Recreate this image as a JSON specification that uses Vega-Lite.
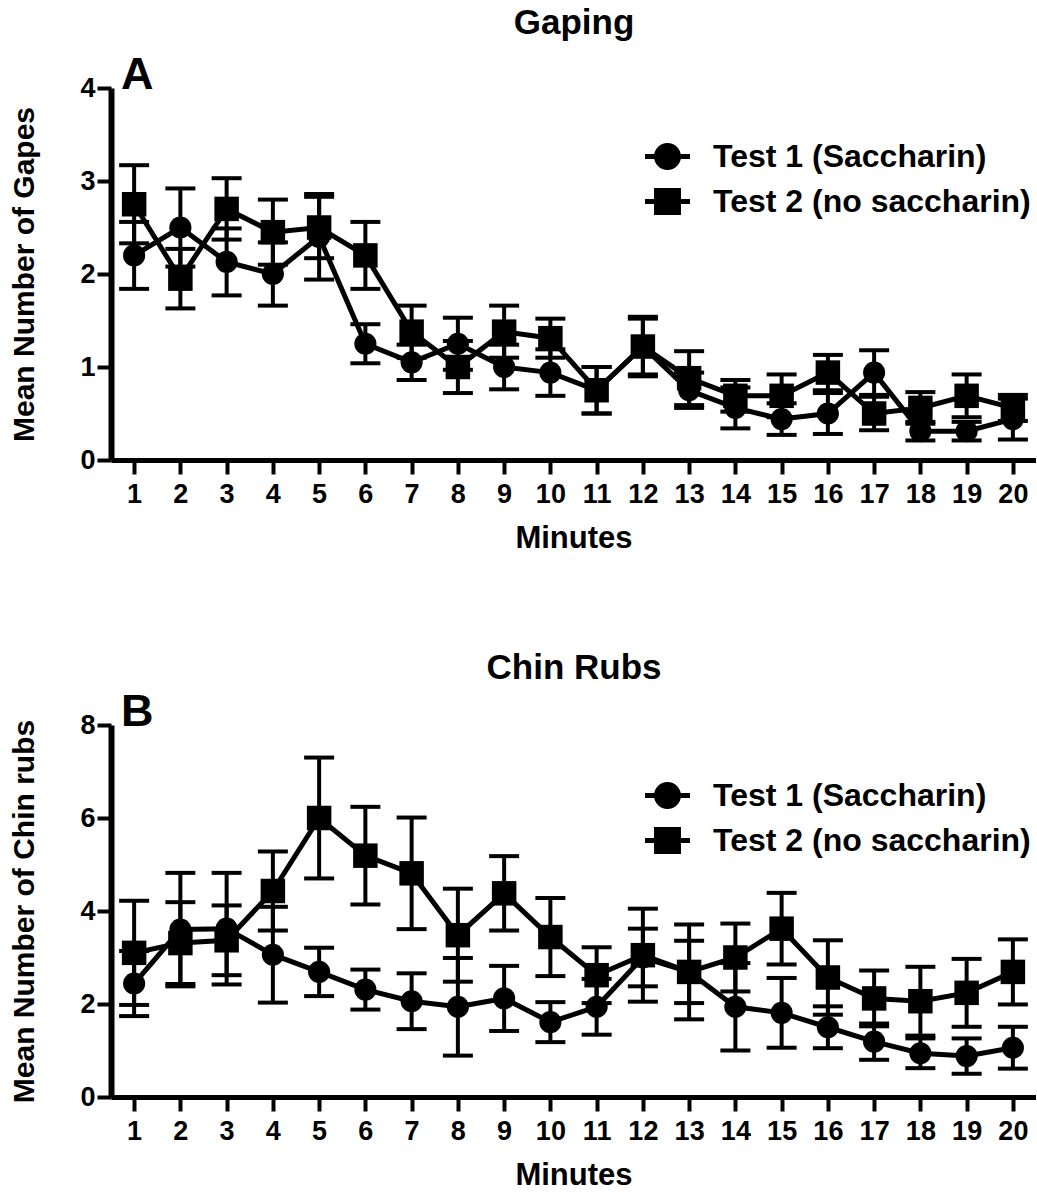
{
  "$schema": "https://vega.github.io/schema/vega-lite/v6.json",
  "padding": {"left": 9, "top": 6, "right": 0, "bottom": 0},
  "spacing": 98,
  "config": {
    "font": "Liberation Sans",
    "view": {"stroke": null},
    "axis": {
      "grid": false,
      "labelFont": "Liberation Sans",
      "labelFontWeight": "bold",
      "labelFontSize": 27,
      "labelColor": "black",
      "titleFont": "Liberation Sans",
      "titleFontWeight": "bold",
      "titleFontSize": 30,
      "titleColor": "black",
      "domainColor": "black",
      "tickColor": "black",
      "labelFlush": false,
      "labelOverlap": false
    },
    "axisX": {"domainWidth": 5, "tickWidth": 4, "tickSize": 14, "labelPadding": 7, "titlePadding": 16, "titleFontSize": 31},
    "axisY": {"domainWidth": 6, "tickWidth": 4, "tickSize": 14, "labelPadding": 2, "titlePadding": 40},
    "title": {"font": "Liberation Sans", "fontWeight": "bold", "color": "black"},
    "legend": {
      "orient": "none",
      "padding": 0,
      "title": null,
      "labelFont": "Liberation Sans",
      "labelFontWeight": "bold",
      "labelFontSize": 32,
      "labelColor": "black",
      "labelLimit": 600,
      "labelOffset": 23,
      "rowPadding": 6,
      "symbolSize": 2025,
      "symbolFillColor": "black",
      "symbolStrokeWidth": 0,
      "symbolOpacity": 1
    }
  },
  "datasets": {
    "gaping": [
      {"minute": 1, "test": "Test 1 (Saccharin)", "mean": 2.20, "sem": 0.36},
      {"minute": 2, "test": "Test 1 (Saccharin)", "mean": 2.50, "sem": 0.42},
      {"minute": 3, "test": "Test 1 (Saccharin)", "mean": 2.13, "sem": 0.36},
      {"minute": 4, "test": "Test 1 (Saccharin)", "mean": 2.00, "sem": 0.34},
      {"minute": 5, "test": "Test 1 (Saccharin)", "mean": 2.40, "sem": 0.46},
      {"minute": 6, "test": "Test 1 (Saccharin)", "mean": 1.25, "sem": 0.21},
      {"minute": 7, "test": "Test 1 (Saccharin)", "mean": 1.05, "sem": 0.19},
      {"minute": 8, "test": "Test 1 (Saccharin)", "mean": 1.25, "sem": 0.28},
      {"minute": 9, "test": "Test 1 (Saccharin)", "mean": 1.00, "sem": 0.24},
      {"minute": 10, "test": "Test 1 (Saccharin)", "mean": 0.94, "sem": 0.25},
      {"minute": 11, "test": "Test 1 (Saccharin)", "mean": 0.75, "sem": 0.25},
      {"minute": 12, "test": "Test 1 (Saccharin)", "mean": 1.22, "sem": 0.30},
      {"minute": 13, "test": "Test 1 (Saccharin)", "mean": 0.75, "sem": 0.19},
      {"minute": 14, "test": "Test 1 (Saccharin)", "mean": 0.56, "sem": 0.22},
      {"minute": 15, "test": "Test 1 (Saccharin)", "mean": 0.44, "sem": 0.17},
      {"minute": 16, "test": "Test 1 (Saccharin)", "mean": 0.50, "sem": 0.22},
      {"minute": 17, "test": "Test 1 (Saccharin)", "mean": 0.94, "sem": 0.24},
      {"minute": 18, "test": "Test 1 (Saccharin)", "mean": 0.31, "sem": 0.10},
      {"minute": 19, "test": "Test 1 (Saccharin)", "mean": 0.31, "sem": 0.10},
      {"minute": 20, "test": "Test 1 (Saccharin)", "mean": 0.44, "sem": 0.22},
      {"minute": 1, "test": "Test 2 (no saccharin)", "mean": 2.75, "sem": 0.42},
      {"minute": 2, "test": "Test 2 (no saccharin)", "mean": 1.95, "sem": 0.32},
      {"minute": 3, "test": "Test 2 (no saccharin)", "mean": 2.70, "sem": 0.33},
      {"minute": 4, "test": "Test 2 (no saccharin)", "mean": 2.45, "sem": 0.35},
      {"minute": 5, "test": "Test 2 (no saccharin)", "mean": 2.50, "sem": 0.33},
      {"minute": 6, "test": "Test 2 (no saccharin)", "mean": 2.20, "sem": 0.36},
      {"minute": 7, "test": "Test 2 (no saccharin)", "mean": 1.38, "sem": 0.28},
      {"minute": 8, "test": "Test 2 (no saccharin)", "mean": 1.00, "sem": 0.28},
      {"minute": 9, "test": "Test 2 (no saccharin)", "mean": 1.38, "sem": 0.28},
      {"minute": 10, "test": "Test 2 (no saccharin)", "mean": 1.31, "sem": 0.21},
      {"minute": 11, "test": "Test 2 (no saccharin)", "mean": 0.75, "sem": 0.25},
      {"minute": 12, "test": "Test 2 (no saccharin)", "mean": 1.22, "sem": 0.32},
      {"minute": 13, "test": "Test 2 (no saccharin)", "mean": 0.88, "sem": 0.29},
      {"minute": 14, "test": "Test 2 (no saccharin)", "mean": 0.69, "sem": 0.17},
      {"minute": 15, "test": "Test 2 (no saccharin)", "mean": 0.69, "sem": 0.23},
      {"minute": 16, "test": "Test 2 (no saccharin)", "mean": 0.94, "sem": 0.19},
      {"minute": 17, "test": "Test 2 (no saccharin)", "mean": 0.50, "sem": 0.18},
      {"minute": 18, "test": "Test 2 (no saccharin)", "mean": 0.56, "sem": 0.17},
      {"minute": 19, "test": "Test 2 (no saccharin)", "mean": 0.69, "sem": 0.23},
      {"minute": 20, "test": "Test 2 (no saccharin)", "mean": 0.56, "sem": 0.14}
    ],
    "chin": [
      {"minute": 1, "test": "Test 1 (Saccharin)", "mean": 2.44, "sem": 0.70},
      {"minute": 2, "test": "Test 1 (Saccharin)", "mean": 3.60, "sem": 1.22},
      {"minute": 3, "test": "Test 1 (Saccharin)", "mean": 3.62, "sem": 1.20},
      {"minute": 4, "test": "Test 1 (Saccharin)", "mean": 3.06, "sem": 1.03},
      {"minute": 5, "test": "Test 1 (Saccharin)", "mean": 2.69, "sem": 0.52},
      {"minute": 6, "test": "Test 1 (Saccharin)", "mean": 2.31, "sem": 0.43},
      {"minute": 7, "test": "Test 1 (Saccharin)", "mean": 2.06, "sem": 0.60},
      {"minute": 8, "test": "Test 1 (Saccharin)", "mean": 1.94, "sem": 1.05},
      {"minute": 9, "test": "Test 1 (Saccharin)", "mean": 2.12, "sem": 0.70},
      {"minute": 10, "test": "Test 1 (Saccharin)", "mean": 1.61, "sem": 0.43},
      {"minute": 11, "test": "Test 1 (Saccharin)", "mean": 1.94, "sem": 0.60},
      {"minute": 12, "test": "Test 1 (Saccharin)", "mean": 3.00, "sem": 0.62},
      {"minute": 13, "test": "Test 1 (Saccharin)", "mean": 2.69, "sem": 0.67},
      {"minute": 14, "test": "Test 1 (Saccharin)", "mean": 1.94, "sem": 0.94},
      {"minute": 15, "test": "Test 1 (Saccharin)", "mean": 1.81, "sem": 0.75},
      {"minute": 16, "test": "Test 1 (Saccharin)", "mean": 1.50, "sem": 0.45},
      {"minute": 17, "test": "Test 1 (Saccharin)", "mean": 1.19, "sem": 0.39},
      {"minute": 18, "test": "Test 1 (Saccharin)", "mean": 0.94, "sem": 0.32},
      {"minute": 19, "test": "Test 1 (Saccharin)", "mean": 0.88, "sem": 0.38},
      {"minute": 20, "test": "Test 1 (Saccharin)", "mean": 1.06, "sem": 0.45},
      {"minute": 1, "test": "Test 2 (no saccharin)", "mean": 3.10, "sem": 1.12},
      {"minute": 2, "test": "Test 2 (no saccharin)", "mean": 3.31, "sem": 0.88},
      {"minute": 3, "test": "Test 2 (no saccharin)", "mean": 3.37, "sem": 0.75},
      {"minute": 4, "test": "Test 2 (no saccharin)", "mean": 4.43, "sem": 0.85},
      {"minute": 5, "test": "Test 2 (no saccharin)", "mean": 6.00, "sem": 1.30},
      {"minute": 6, "test": "Test 2 (no saccharin)", "mean": 5.19, "sem": 1.05},
      {"minute": 7, "test": "Test 2 (no saccharin)", "mean": 4.81, "sem": 1.20},
      {"minute": 8, "test": "Test 2 (no saccharin)", "mean": 3.48, "sem": 1.00},
      {"minute": 9, "test": "Test 2 (no saccharin)", "mean": 4.38, "sem": 0.80},
      {"minute": 10, "test": "Test 2 (no saccharin)", "mean": 3.44, "sem": 0.84},
      {"minute": 11, "test": "Test 2 (no saccharin)", "mean": 2.62, "sem": 0.60},
      {"minute": 12, "test": "Test 2 (no saccharin)", "mean": 3.05, "sem": 1.00},
      {"minute": 13, "test": "Test 2 (no saccharin)", "mean": 2.69, "sem": 1.02},
      {"minute": 14, "test": "Test 2 (no saccharin)", "mean": 3.00, "sem": 0.73},
      {"minute": 15, "test": "Test 2 (no saccharin)", "mean": 3.62, "sem": 0.77},
      {"minute": 16, "test": "Test 2 (no saccharin)", "mean": 2.57, "sem": 0.80},
      {"minute": 17, "test": "Test 2 (no saccharin)", "mean": 2.12, "sem": 0.60},
      {"minute": 18, "test": "Test 2 (no saccharin)", "mean": 2.06, "sem": 0.74},
      {"minute": 19, "test": "Test 2 (no saccharin)", "mean": 2.24, "sem": 0.73},
      {"minute": 20, "test": "Test 2 (no saccharin)", "mean": 2.69, "sem": 0.70}
    ]
  },
  "vconcat": [
    {
      "title": {"text": "Gaping", "fontSize": 35, "anchor": "middle", "frame": "group", "dx": 463, "offset": 12},
      "vconcat": [
        {
          "title": {"text": "A", "fontSize": 45, "anchor": "start", "frame": "group", "dx": 10, "offset": -24},
          "width": 925,
          "height": 372,
          "data": {"name": "gaping"},
          "resolve": {"scale": {"shape": "independent"}},
          "layer": [
            {
              "mark": {"type": "errorbar", "ticks": {"size": 30, "thickness": 4, "color": "black", "opacity": 1}, "rule": {"opacity": 1}, "thickness": 4, "color": "black", "opacity": 1},
              "encoding": {
                "x": {"field": "minute", "type": "quantitative", "scale": {"domain": [0.5, 20.5], "nice": false, "zero": false},
                      "axis": {"values": [1,2,3,4,5,6,7,8,9,10,11,12,13,14,15,16,17,18,19,20], "format": "d", "title": "Minutes"}},
                "y": {"field": "mean", "type": "quantitative", "scale": {"domain": [0, 4], "nice": false},
                      "axis": {"values": [0, 1, 2, 3, 4], "format": "d", "title": "Mean Number of Gapes"}},
                "yError": {"field": "sem"}
              }
            },
            {
              "mark": {"type": "line", "color": "black", "strokeWidth": 5},
              "encoding": {
                "x": {"field": "minute", "type": "quantitative"},
                "y": {"field": "mean", "type": "quantitative"},
                "detail": {"field": "test"}
              }
            },
            {
              "mark": {"type": "point", "filled": true, "color": "black", "opacity": 1, "strokeWidth": 0},
              "encoding": {
                "x": {"field": "minute", "type": "quantitative"},
                "y": {"field": "mean", "type": "quantitative"},
                "shape": {"field": "test", "scale": {"range": ["circle", "square"]}, "legend": null},
                "size": {"field": "test", "scale": {"range": [490, 600]}, "legend": null}
              }
            },
            {
              "mark": {"type": "point", "filled": true, "color": "black", "opacity": 0},
              "encoding": {
                "x": {"field": "minute", "type": "quantitative"},
                "y": {"field": "mean", "type": "quantitative"},
                "shape": {
                  "field": "test",
                  "scale": {"range": [
                    "M-1,-0.11H1V0.11H-1Z M0.6,0A0.6,0.6 0 1,1 -0.6,0A0.6,0.6 0 1,1 0.6,0Z",
                    "M-1,-0.11H1V0.11H-1Z M-0.6,-0.6H0.6V0.6H-0.6Z"
                  ]},
                  "legend": {"legendX": 534, "legendY": 46}
                }
              }
            }
          ]
        }
      ]
    },
    {
      "title": {"text": "Chin Rubs", "fontSize": 35, "anchor": "middle", "frame": "group", "dx": 463, "offset": 4},
      "vconcat": [
        {
          "title": {"text": "B", "fontSize": 45, "anchor": "start", "frame": "group", "dx": 10, "offset": -24},
          "width": 925,
          "height": 372,
          "data": {"name": "chin"},
          "resolve": {"scale": {"shape": "independent"}},
          "layer": [
            {
              "mark": {"type": "errorbar", "ticks": {"size": 30, "thickness": 4, "color": "black", "opacity": 1}, "rule": {"opacity": 1}, "thickness": 4, "color": "black", "opacity": 1},
              "encoding": {
                "x": {"field": "minute", "type": "quantitative", "scale": {"domain": [0.5, 20.5], "nice": false, "zero": false},
                      "axis": {"values": [1,2,3,4,5,6,7,8,9,10,11,12,13,14,15,16,17,18,19,20], "format": "d", "title": "Minutes"}},
                "y": {"field": "mean", "type": "quantitative", "scale": {"domain": [0, 8], "nice": false},
                      "axis": {"values": [0, 2, 4, 6, 8], "format": "d", "title": "Mean Number of Chin rubs"}},
                "yError": {"field": "sem"}
              }
            },
            {
              "mark": {"type": "line", "color": "black", "strokeWidth": 5},
              "encoding": {
                "x": {"field": "minute", "type": "quantitative"},
                "y": {"field": "mean", "type": "quantitative"},
                "detail": {"field": "test"}
              }
            },
            {
              "mark": {"type": "point", "filled": true, "color": "black", "opacity": 1, "strokeWidth": 0},
              "encoding": {
                "x": {"field": "minute", "type": "quantitative"},
                "y": {"field": "mean", "type": "quantitative"},
                "shape": {"field": "test", "scale": {"range": ["circle", "square"]}, "legend": null},
                "size": {"field": "test", "scale": {"range": [490, 600]}, "legend": null}
              }
            },
            {
              "mark": {"type": "point", "filled": true, "color": "black", "opacity": 0},
              "encoding": {
                "x": {"field": "minute", "type": "quantitative"},
                "y": {"field": "mean", "type": "quantitative"},
                "shape": {
                  "field": "test",
                  "scale": {"range": [
                    "M-1,-0.11H1V0.11H-1Z M0.6,0A0.6,0.6 0 1,1 -0.6,0A0.6,0.6 0 1,1 0.6,0Z",
                    "M-1,-0.11H1V0.11H-1Z M-0.6,-0.6H0.6V0.6H-0.6Z"
                  ]},
                  "legend": {"legendX": 534, "legendY": 48}
                }
              }
            }
          ]
        }
      ]
    }
  ]
}
